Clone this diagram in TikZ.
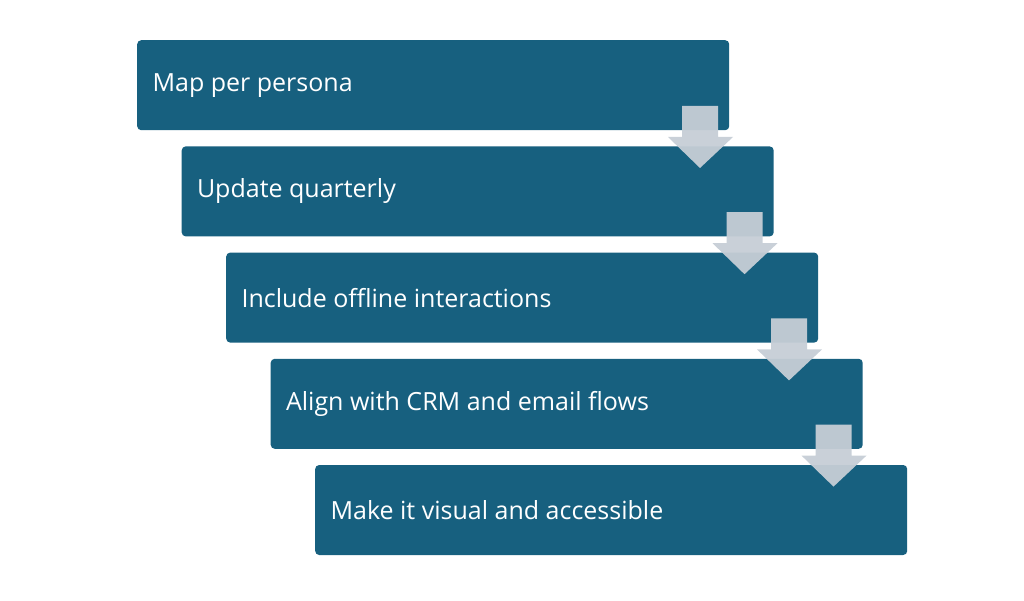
\documentclass[tikz,border=0pt]{standalone}
\usepackage{fontspec}
\setmainfont{Open Sans}
\definecolor{boxc}{HTML}{17607F}
\definecolor{arrc}{HTML}{C6CED6}
\begin{document}
\begin{tikzpicture}[x=1pt,y=-1pt,
  box/.style={fill=boxc,rounded corners=4pt,minimum width=592pt,minimum height=90pt,anchor=north west,inner sep=0pt},
  lbl/.style={text=white,anchor=west,font=\fontsize{25}{30}\selectfont},
  arr/.style={fill=arrc,draw=none,fill opacity=0.95}]
\useasboundingbox (0,0) rectangle (1024,601);
\foreach \i/\t in {0/Map per persona,1/Update quarterly,2/Include offline interactions,3/Align with CRM and email flows,4/Make it visual and accessible}{
  \node[box] (b\i) at ({137+44.5*\i},{40+106.2*\i}) {};
  \node[lbl] (t\i) at ([xshift=12pt]b\i.west) {\t};
}
\foreach \i in {0,1,2,3}{
  \pgfmathsetmacro\cx{137+44.5*\i+563}
  \pgfmathsetmacro\ty{40+106.2*\i+66}
  \fill[arr] (\cx-18,\ty) -- (\cx+18,\ty) -- (\cx+18,\ty+31) -- (\cx+33,\ty+31) -- (\cx,\ty+62) -- (\cx-32,\ty+31) -- (\cx-18,\ty+31) -- cycle;
}
\end{tikzpicture}
\end{document}
